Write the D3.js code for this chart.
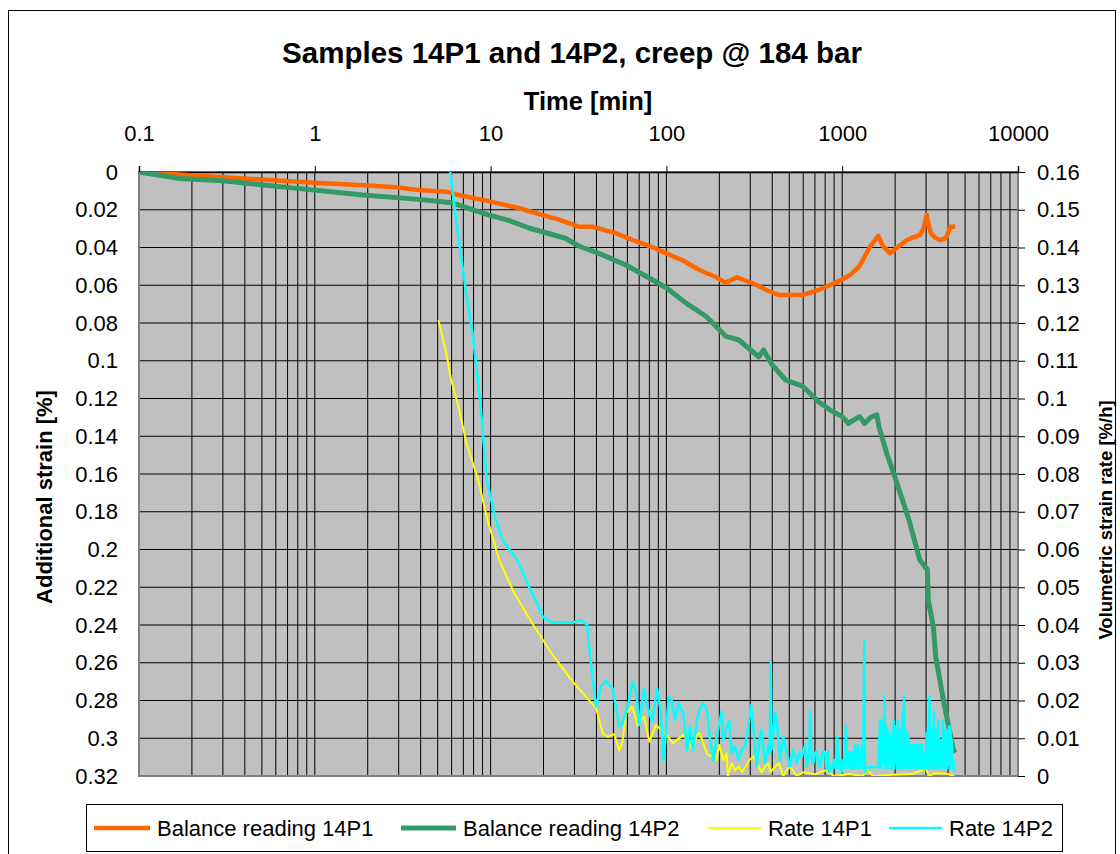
<!DOCTYPE html>
<html>
<head>
<meta charset="utf-8">
<script src="https://cdn.jsdelivr.net/npm/d3@7"></script>
<style>
  html, body { margin: 0; padding: 0; background: #fff; }
  svg { display: block; font-family: "Liberation Sans", Arial, sans-serif; }
</style>
</head>
<body>
<svg id="chart" width="1120" height="854"></svg>
<script>
// ---- data: time [min] vs additional strain [%] and volumetric strain rate [%/h] ----
const timeTicks = [0.1, 1, 10, 100, 1000, 10000];
const strainTicks = [0, 0.02, 0.04, 0.06, 0.08, 0.1, 0.12, 0.14, 0.16, 0.18, 0.2, 0.22, 0.24, 0.26, 0.28, 0.3, 0.32];
const rateTicks = [0, 0.01, 0.02, 0.03, 0.04, 0.05, 0.06, 0.07, 0.08, 0.09, 0.1, 0.11, 0.12, 0.13, 0.14, 0.15, 0.16];

const balance14P1 = [
  [0.1,0],[0.3,0.0028],[0.5,0.004],[1,0.0057],[2,0.0072],[2.9,0.0081],[3.9,0.0095],[5.6,0.0104],
  [6.6,0.0122],[10,0.0157],[14.6,0.0192],[18.3,0.0219],[24.7,0.0254],[31.7,0.029],[38,0.029],
  [51.8,0.0325],[64,0.036],[83.5,0.0399],[99.8,0.0431],[125,0.047],[154,0.0519],[190,0.0555],
  [217,0.0586],[252,0.0558],[307,0.0588],[370,0.0625],[437,0.0652],[594,0.0652],[733,0.0625],
  [946,0.0581],[1108,0.0546],[1250,0.05],[1342,0.0449],[1439,0.0396],[1605,0.0339],[1700,0.039],
  [1870,0.0431],[2050,0.04],[2336,0.036],[2550,0.0345],[2765,0.0334],[2900,0.03],[3024,0.0228],
  [3100,0.028],[3198,0.0325],[3400,0.035],[3585,0.036],[3800,0.0355],[3930,0.0342],[4120,0.029],[4390,0.029]
];

const balance14P2 = [
  [0.1,0],[0.171,0.0034],[0.3,0.0046],[0.51,0.0069],[0.9,0.0092],[1.88,0.0122],[3.9,0.0145],
  [5.85,0.0162],[6.6,0.0175],[9.8,0.0228],[12.8,0.0258],[16.7,0.0298],[26.6,0.0351],[31.7,0.0392],
  [41.3,0.0431],[58.8,0.0493],[83.5,0.0572],[99.8,0.0613],[130,0.0696],[169,0.0767],[217,0.0869],
  [258,0.089],[335,0.0979],[357,0.0943],[400,0.1022],[476,0.1102],[594,0.1134],[733,0.1217],
  [850,0.126],[1000,0.1296],[1088,0.1332],[1180,0.131],[1258,0.1296],[1342,0.1332],[1450,0.13],
  [1574,0.1287],[1617,0.1349],[1791,0.149],[2020,0.1632],[2400,0.1844],[2765,0.2056],[2950,0.209],
  [3050,0.2105],[3090,0.227],[3300,0.2409],[3404,0.2568],[3760,0.2797],[4000,0.2921],[4286,0.3062],[4400,0.3076]
];

const rate14P1 = [
  [5.05,0.1208],[5.6,0.112],[5.97,0.1049],[6.6,0.0974],[7.3,0.088],[8.5,0.0784],[9.6,0.0678],
  [11.2,0.0572],[13.5,0.0488],[17.7,0.0396],[22.6,0.032],[29.3,0.025],[39.8,0.018],[43.4,0.0113],
  [46.4,0.0104],[50.5,0.0111],[54,0.0067],[56.3,0.0091],[58.8,0.0166],[64,0.0184],[68.5,0.0135],
  [74.7,0.0157],[80,0.0091],[87,0.0135],[99.8,0.0109],[109,0.0087],[125,0.0109],[142,0.0069],
  [149,0.0109],[155,0.0113],[170,0.006],[177,0.0052],[185,0.006],[193,0.0042],[200,0.0082],
  [211,0.0042],[220,0.006],[224,0],[235,0.0034],[246,0.0015],[257,0.0025],[270,0.001],[296,0.0042],
  [312,0.0052],[326,0.0034],[348,0.001],[364,0.0025],[380,0.0034],[392,0.001],[415,0.0025],
  [437,0.0034],[462,0],[484,0.0015],[505,0.0025],[551,0],[600,0.001],[700,0.0005],[800,0.0015],
  [900,0],[1100,0.0005],[1300,0],[1400,0.0015],[1500,0],[1900,0.0003],[2500,0.0005],[3000,0.002],
  [3100,0],[3400,0.0008],[4000,0.0005],[4342,0]
];

const rate14P2 = [
  [5.9,0.16],[6.3,0.149],[6.8,0.1376],[7.3,0.127],[7.9,0.1173],[8.8,0.0974],[9.5,0.0784],[10.7,0.0678],
  [11.7,0.0625],[14.2,0.0572],[16.7,0.0497],[18.2,0.0462],[19.8,0.0422],[22,0.0407],[29.3,0.0407],
  [32.6,0.0413],[35.5,0.04],[36.3,0.0343],[37.6,0.0281],[39.8,0.0184],[42.4,0.0237],[45.3,0.0252],
  [49.4,0.0232],[54,0.0131],[56.3,0.014],[61.4,0.0201],[64,0.025],[67.5,0.0219],[69.9,0.0135],
  [74.7,0.0232],[77.9,0.0184],[83.1,0.0144],[88.6,0.0232],[92.5,0.0175],[96.6,0.0042],[103,0.021],
  [107,0.0201],[112,0.0148],[117,0.0193],[125,0.0166],[131,0.0069],[136,0.0131],[142,0.0069],
  [149,0.0148],[155,0.0179],[162,0.0193],[170,0.0175],[177,0.0095],[185,0.0042],[193,0.0104],
  [206,0.017],[211,0.0095],[220,0.0131],[228,0.0148],[235,0.006],[246,0.0078],[257,0.0042],
  [268,0.0069],[280,0.0078],[296,0.0148],[303,0.0188],[312,0.0131],[326,0.0025],[341,0.0104],
  [348,0.0122],[364,0.0034],[380,0.0078],[386,0.006],[392,0.03],[397,0.007],[415,0.0166],[428,0.0131],
  [443,0.0042],[462,0.0104],[484,0.006],[505,0.0025],[527,0.0069],[551,0.0034],[570,0.006],
  [589,0.0052],[615,0.0082],[628,0.0025],[650,0.006],[656,0.017],[668,0.005],[685,0.0034],[700,0.006],
  [716,0.0065],[732,0.003],[748,0.0025],[774,0.0064],
  [798,0.0064],[814,0.002],[830,0.0064],[846,0.001],[863,0.003],[880,0.002],[898,0.0042],[916,0.002],
  [934,0.0104],[952,0.002],[971,0.004],[990,0.001],[1010,0.0042],[1030,0.002],[1050,0.0131],[1071,0.002],
  [1092,0.0064],[1114,0.002],[1136,0.0064],[1158,0.002],[1181,0.0082],[1205,0.002],[1229,0.0082],
  [1253,0.002],[1278,0.0064],[1303,0.0082],[1316,0.002],[1336,0.036],[1348,0.001],[1361,0.0023],
  [1605,0.0023],
  [1641,0.0148],[1657,0.002],[1674,0.012],[1690,0.003],[1707,0.015],[1724,0.004],[1741,0.0212],[1758,0.002],
  [1775,0.0131],[1793,0.003],[1810,0.0125],[1828,0.002],[1846,0.011],[1864,0.004],[1883,0.011],[1901,0.002],
  [1920,0.01],[1939,0.003],[1958,0.0148],[1978,0.002],[1997,0.0131],[2017,0.004],[2037,0.0125],[2057,0.002],
  [2077,0.0148],[2098,0.003],[2118,0.012],[2139,0.002],[2160,0.012],[2182,0.004],[2203,0.017],[2225,0.002],
  [2247,0.0212],[2269,0.003],[2291,0.012],[2314,0.002],[2337,0.0115],[2360,0.004],[2383,0.0104],[2407,0.002],
  [2430,0.0082],[2454,0.002],[2479,0.0064],[2503,0.003],[2528,0.0082],[2553,0.002],[2578,0.0082],[2603,0.004],
  [2629,0.0082],[2655,0.002],[2681,0.0082],[2708,0.003],[2734,0.0082],[2761,0.002],[2789,0.0082],[2816,0.004],
  [2844,0.0082],[2872,0.002],[2900,0.006],[2929,0.002],[2958,0.0042],[2987,0.002],[3017,0.0113],[3046,0.003],
  [3076,0.0131],[3107,0.002],[3137,0.0212],[3168,0.003],[3200,0.012],[3231,0.002],[3263,0.0125],[3295,0.004],
  [3328,0.017],[3361,0.002],[3394,0.012],[3427,0.003],[3461,0.012],[3495,0.002],[3530,0.0148],[3565,0.004],
  [3600,0.0095],[3635,0.002],[3671,0.0095],[3707,0.003],[3744,0.0148],[3781,0.002],[3818,0.012],[3856,0.004],
  [3894,0.012],[3932,0.002],[3971,0.012],[4010,0.003],[4050,0.0131],[4090,0.002],[4130,0.0131],[4171,0.003],
  [4212,0.0095],[4254,0.002],[4296,0.0042],[4338,0.001]
];

const seriesNames = ["Balance reading 14P1", "Balance reading 14P2", "Rate 14P1", "Rate 14P2"];
const seriesColors = ["#FF6600", "#339966", "#FFFF00", "#00FFFF"];
const seriesWidths = [4.5, 5, 2, 2.5];

// ---- layout ----
const svg = d3.select("#chart");
const plot = { left: 139, right: 1018, top: 172, bottom: 776 };

const x = d3.scaleLog().domain([0.1, 10000]).range([plot.left, plot.right]);
const yL = d3.scaleLinear().domain([0, 0.32]).range([plot.top, plot.bottom]);
const yR = d3.scaleLinear().domain([0, 0.16]).range([plot.bottom, plot.top]);

// outer chart frame
svg.append("rect").attr("x", 8.5).attr("y", 10.5).attr("width", 1107).attr("height", 860)
  .attr("fill", "#fff").attr("stroke", "#000").attr("stroke-width", 1);

// plot background
svg.append("rect").attr("x", plot.left).attr("y", plot.top)
  .attr("width", plot.right - plot.left).attr("height", plot.bottom - plot.top)
  .attr("fill", "#C0C0C0");

// log grid lines (1..9 per decade)
const minorVals = [];
for (let e = -1; e < 4; e++) for (let k = 1; k <= 9; k++) minorVals.push(k * Math.pow(10, e));
svg.append("g").selectAll("line").data(minorVals.filter(v => v > 0.1)).join("line")
  .attr("x1", d => x(d)).attr("x2", d => x(d))
  .attr("y1", plot.top).attr("y2", plot.bottom)
  .attr("stroke", "#000").attr("stroke-width", 1);

// horizontal grid lines
svg.append("g").selectAll("line").data(strainTicks.filter(v => v > 0 && v < 0.32)).join("line")
  .attr("x1", plot.left).attr("x2", plot.right)
  .attr("y1", d => yL(d)).attr("y2", d => yL(d))
  .attr("stroke", "#000").attr("stroke-width", 1);

// plot frame
svg.append("rect").attr("x", plot.left).attr("y", plot.top)
  .attr("width", plot.right - plot.left).attr("height", plot.bottom - plot.top)
  .attr("fill", "none").attr("stroke", "#808080").attr("stroke-width", 2);

// top (time) axis
const topAxis = d3.axisTop(x).tickValues(timeTicks).tickSize(6).tickPadding(25)
  .tickFormat(d => String(d));
const gTop = svg.append("g").attr("transform", `translate(0,${plot.top})`).call(topAxis);
gTop.select(".domain").attr("stroke", "#000").attr("stroke-width", 1.5);
gTop.selectAll(".tick line").attr("stroke", "#000");
gTop.selectAll("text").attr("font-size", 22).attr("fill", "#000")
  .attr("font-family", "Liberation Sans, Arial, sans-serif");

// left (strain) axis
const leftAxis = d3.axisLeft(yL).tickValues(strainTicks).tickSize(0).tickPadding(21)
  .tickFormat(d => String(+d.toFixed(2)));
const gLeft = svg.append("g").attr("transform", `translate(${plot.left},0)`).call(leftAxis);
gLeft.select(".domain").remove();
gLeft.selectAll("text").attr("font-size", 22).attr("fill", "#000")
  .attr("font-family", "Liberation Sans, Arial, sans-serif");

// right (rate) axis
const rightAxis = d3.axisRight(yR).tickValues(rateTicks).tickSize(7).tickPadding(12)
  .tickFormat(d => String(+d.toFixed(2)));
const gRight = svg.append("g").attr("transform", `translate(${plot.right},0)`).call(rightAxis);
gRight.select(".domain").remove();
gRight.selectAll(".tick line").attr("stroke", "#000");
gRight.selectAll("text").attr("font-size", 22).attr("fill", "#000")
  .attr("font-family", "Liberation Sans, Arial, sans-serif");

// titles
svg.append("text").attr("x", 572).attr("y", 63).attr("text-anchor", "middle")
  .attr("font-size", 29.5).attr("font-weight", "bold")
  .text("Samples 14P1 and 14P2, creep @ 184 bar");
svg.append("text").attr("x", 588).attr("y", 110).attr("text-anchor", "middle")
  .attr("font-size", 25.5).attr("font-weight", "bold").text("Time [min]");
svg.append("text").attr("transform", "translate(52,497) rotate(-90)").attr("text-anchor", "middle")
  .attr("font-size", 22).attr("font-weight", "bold").text("Additional strain [%]");
svg.append("text").attr("transform", "translate(1112,520) rotate(-90)").attr("text-anchor", "middle")
  .attr("font-size", 18.5).attr("font-weight", "bold").text("Volumetric strain rate [%/h]");

// series
svg.append("clipPath").attr("id", "plotClip").append("rect")
  .attr("x", plot.left).attr("y", plot.top)
  .attr("width", plot.right - plot.left).attr("height", plot.bottom - plot.top);
const gLines = svg.append("g").attr("clip-path", "url(#plotClip)");

const lineL = d3.line().x(d => x(d[0])).y(d => yL(d[1]));
const lineR = d3.line().x(d => x(d[0])).y(d => yR(d[1]));

const series = [
  { data: balance14P1, gen: lineL },
  { data: balance14P2, gen: lineL },
  { data: rate14P1, gen: lineR },
  { data: rate14P2, gen: lineR }
];
series.forEach((s, i) => {
  gLines.append("path").attr("d", s.gen(s.data))
    .attr("fill", "none").attr("stroke", seriesColors[i])
    .attr("stroke-width", seriesWidths[i]).attr("stroke-linejoin", "round");
});

// legend
svg.append("rect").attr("x", 86.5).attr("y", 804.5).attr("width", 976).attr("height", 47)
  .attr("fill", "#fff").attr("stroke", "#000").attr("stroke-width", 1);
const legendX = [94, 401, 708, 889];
const legendLen = [56, 55, 53, 53];
seriesNames.forEach((name, i) => {
  svg.append("line").attr("x1", legendX[i]).attr("x2", legendX[i] + legendLen[i])
    .attr("y1", 828).attr("y2", 828)
    .attr("stroke", seriesColors[i]).attr("stroke-width", seriesWidths[i]);
  svg.append("text").attr("x", legendX[i] + legendLen[i] + 7).attr("y", 836)
    .attr("font-size", 22).text(name);
});
</script>
</body>
</html>
